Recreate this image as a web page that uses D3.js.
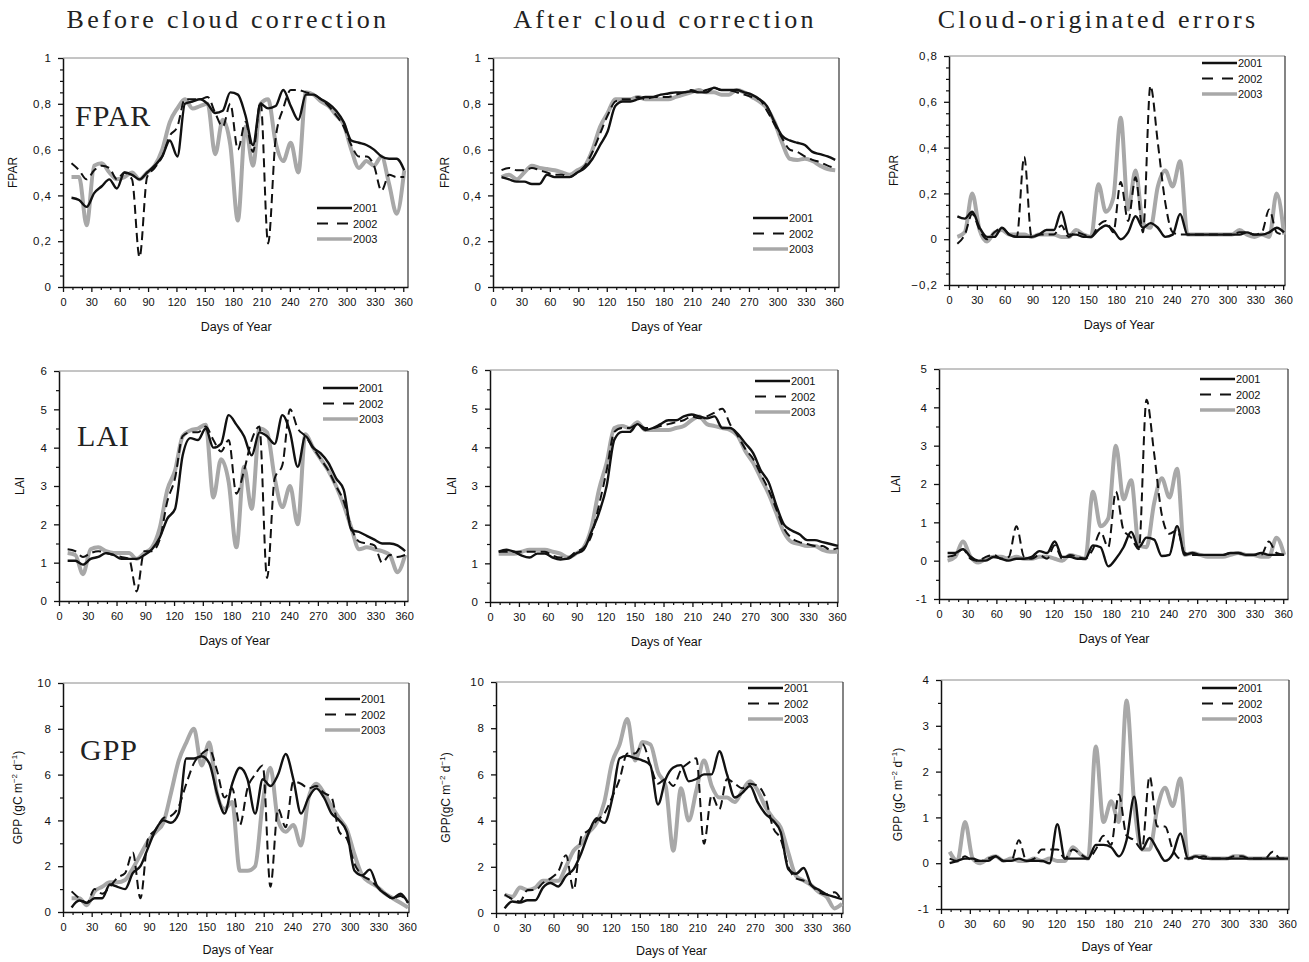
<!DOCTYPE html>
<html><head><meta charset="utf-8">
<script src="https://cdn.jsdelivr.net/npm/d3@7"></script>
<style>
html,body{margin:0;padding:0;background:#fff;}
svg text{font-family:"Liberation Sans",Arial,sans-serif;fill:#111;}
.ttl{font-family:"Liberation Serif","Times New Roman",serif !important;}
</style></head>
<body>
<svg id="c" width="1309" height="962"></svg>
<script>
// ---------- DATA ----------
const days = [9,17,25,33,41,49,57,65,73,81,89,97,105,113,121,129,137,145,153,161,169,177,185,193,201,209,217,225,233,241,249,257,265,273,281,289,297,305,313,321,329,337,345,353,361];
const years = ["2001","2002","2003"];
const columnTitles = ["Before cloud correction","After cloud correction","Cloud-originated errors"];
const xTicks = [0,30,60,90,120,150,180,210,240,270,300,330,360];

const fparBefore2001 = [0.39,0.38,0.35,0.41,0.44,0.47,0.43,0.50,0.49,0.47,0.50,0.53,0.57,0.64,0.57,0.80,0.81,0.82,0.80,0.76,0.77,0.85,0.84,0.75,0.62,0.80,0.78,0.79,0.86,0.79,0.73,0.84,0.84,0.82,0.80,0.77,0.72,0.64,0.63,0.62,0.60,0.57,0.56,0.56,0.51];
const fparBefore2002 = [0.54,0.51,0.47,0.51,0.53,0.52,0.47,0.50,0.47,0.13,0.48,0.52,0.57,0.66,0.70,0.82,0.82,0.82,0.83,0.76,0.70,0.80,0.60,0.72,0.59,0.81,0.19,0.65,0.78,0.86,0.86,0.85,0.84,0.82,0.79,0.75,0.70,0.62,0.57,0.57,0.53,0.42,0.49,0.48,0.48];
const fparBefore2003 = [0.48,0.48,0.27,0.53,0.54,0.50,0.47,0.48,0.50,0.47,0.50,0.53,0.60,0.72,0.78,0.82,0.78,0.79,0.80,0.58,0.73,0.62,0.29,0.70,0.53,0.80,0.82,0.63,0.55,0.63,0.50,0.85,0.84,0.81,0.79,0.75,0.71,0.60,0.52,0.55,0.53,0.57,0.45,0.32,0.51];

const fparAfter2001 = [0.48,0.47,0.46,0.46,0.45,0.45,0.49,0.48,0.48,0.48,0.50,0.52,0.56,0.62,0.68,0.79,0.81,0.81,0.82,0.83,0.83,0.84,0.845,0.85,0.85,0.855,0.85,0.85,0.87,0.86,0.86,0.86,0.85,0.84,0.82,0.79,0.72,0.66,0.64,0.63,0.62,0.59,0.58,0.57,0.555];
const fparAfter2002 = [0.51,0.52,0.51,0.51,0.52,0.51,0.50,0.49,0.49,0.48,0.50,0.53,0.59,0.67,0.75,0.81,0.82,0.82,0.83,0.82,0.83,0.83,0.83,0.84,0.85,0.86,0.85,0.86,0.87,0.86,0.86,0.85,0.84,0.83,0.82,0.77,0.71,0.65,0.60,0.59,0.57,0.555,0.545,0.53,0.52];
const fparAfter2003 = [0.48,0.49,0.47,0.50,0.53,0.52,0.515,0.51,0.50,0.49,0.51,0.53,0.60,0.70,0.76,0.82,0.82,0.82,0.83,0.82,0.82,0.82,0.82,0.83,0.84,0.85,0.86,0.85,0.85,0.84,0.84,0.86,0.85,0.83,0.81,0.78,0.72,0.63,0.56,0.555,0.56,0.55,0.53,0.515,0.51];

const fparError2001 = [0.10,0.09,0.12,0.05,0.01,0.01,0.05,0.02,0.01,0.01,0.01,0.02,0.04,0.04,0.12,0.02,0.02,0.01,0.01,0.04,0.06,0.04,0.00,0.03,0.10,0.05,0.07,0.05,0.01,0.02,0.11,0.02,0.02,0.02,0.02,0.02,0.02,0.02,0.02,0.03,0.02,0.02,0.03,0.05,0.03];
const fparError2002 = [-0.02,0.02,0.11,0.04,0.00,0.03,0.05,0.02,0.01,0.36,0.01,0.02,0.02,0.02,0.06,0.01,0.03,0.02,0.01,0.06,0.08,0.03,0.25,0.08,0.27,0.03,0.67,0.42,0.16,0.03,0.02,0.02,0.02,0.02,0.02,0.02,0.02,0.02,0.03,0.03,0.02,0.03,0.13,0.03,0.02];
const fparError2003 = [0.01,0.03,0.20,0.04,-0.01,0.03,0.04,0.02,0.02,0.02,0.01,0.02,0.02,0.02,0.01,0.01,0.04,0.02,0.01,0.24,0.12,0.18,0.53,0.13,0.30,0.07,0.05,0.23,0.30,0.23,0.34,0.02,0.02,0.02,0.02,0.02,0.02,0.02,0.04,0.02,0.01,0.02,0.01,0.20,0.02];

const laiBefore2001 = [1.05,1.05,0.95,1.10,1.15,1.25,1.20,1.10,1.10,1.10,1.20,1.35,1.65,2.15,2.40,3.80,4.25,4.20,4.50,4.00,4.10,4.85,4.60,4.30,3.80,4.40,4.30,4.10,4.85,4.40,3.50,4.30,4.00,3.85,3.60,3.20,2.90,1.85,1.80,1.70,1.60,1.50,1.50,1.45,1.30];
const laiBefore2002 = [1.35,1.30,1.15,1.25,1.30,1.25,1.20,1.15,1.10,0.25,1.30,1.30,1.60,2.60,3.20,4.30,4.40,4.40,4.55,4.20,3.90,4.20,2.80,3.40,4.20,4.55,0.60,3.20,3.55,5.00,4.50,4.30,4.00,3.70,3.40,3.00,2.60,1.90,1.55,1.50,1.45,1.00,1.20,1.15,1.20];
const laiBefore2003 = [1.25,1.20,0.70,1.35,1.40,1.30,1.25,1.25,1.25,1.10,1.25,1.40,1.90,2.90,3.40,4.30,4.45,4.50,4.60,2.70,3.70,3.10,1.40,3.50,2.40,4.50,4.40,3.20,2.45,3.00,2.00,4.35,4.00,3.70,3.40,3.00,2.50,1.90,1.35,1.40,1.35,1.30,1.20,0.75,1.20];

const laiAfter2001 = [1.30,1.35,1.30,1.20,1.15,1.25,1.25,1.15,1.10,1.12,1.25,1.35,1.80,2.30,3.00,4.20,4.40,4.40,4.60,4.45,4.50,4.60,4.70,4.70,4.80,4.85,4.80,4.75,4.80,4.50,4.50,4.35,4.10,3.85,3.40,3.10,2.50,2.00,1.85,1.75,1.60,1.60,1.55,1.50,1.45];
const laiAfter2002 = [1.30,1.30,1.30,1.30,1.30,1.30,1.30,1.20,1.15,1.15,1.30,1.40,1.70,2.50,3.40,4.40,4.50,4.50,4.60,4.50,4.50,4.55,4.60,4.65,4.70,4.80,4.75,4.80,4.90,5.00,4.60,4.30,3.95,3.70,3.30,2.90,2.40,1.90,1.65,1.55,1.50,1.45,1.45,1.35,1.40];
const laiAfter2003 = [1.25,1.25,1.25,1.30,1.35,1.35,1.35,1.30,1.25,1.15,1.25,1.40,1.90,2.90,3.60,4.50,4.55,4.50,4.65,4.45,4.45,4.45,4.45,4.50,4.55,4.70,4.80,4.60,4.55,4.50,4.45,4.30,3.90,3.60,3.20,2.80,2.30,1.80,1.55,1.50,1.45,1.45,1.35,1.30,1.30];

const laiError2001 = [0.20,0.20,0.30,0.10,0.00,0.00,0.10,0.05,0.00,0.05,0.05,0.10,0.25,0.20,0.50,0.10,0.10,0.05,0.05,0.40,0.35,-0.15,0.05,0.35,0.75,0.35,0.60,0.55,0.12,0.15,0.90,0.15,0.20,0.15,0.15,0.15,0.15,0.20,0.20,0.15,0.15,0.20,0.15,0.15,0.15];
const laiError2002 = [0.10,0.15,0.30,0.05,0.00,0.10,0.15,0.05,0.10,0.90,0.10,0.05,0.15,0.05,0.40,0.05,0.15,0.10,0.05,0.30,0.75,0.35,1.80,0.80,0.60,0.30,4.20,2.80,1.20,0.70,0.80,0.20,0.15,0.15,0.15,0.15,0.15,0.20,0.20,0.15,0.15,0.15,0.50,0.20,0.15];
const laiError2003 = [0.00,0.10,0.50,0.10,-0.05,0.05,0.10,0.10,0.05,0.10,0.05,0.05,0.10,0.10,0.05,0.00,0.15,0.10,0.05,1.80,0.90,1.10,3.00,1.60,2.10,0.40,0.35,1.50,2.15,1.65,2.40,0.15,0.20,0.15,0.10,0.10,0.10,0.15,0.20,0.15,0.15,0.10,0.10,0.60,0.15];

const gppBefore2001 = [0.2,0.5,0.4,0.6,0.6,1.2,1.1,1.0,1.7,2.0,2.8,3.6,4.0,3.9,4.3,6.7,6.7,6.8,6.5,5.2,4.3,5.6,6.3,5.8,4.3,5.8,5.5,6.0,6.9,5.8,4.3,5.0,5.4,5.0,4.3,4.0,3.5,1.8,1.6,1.85,1.1,0.8,0.6,0.8,0.4];
const gppBefore2002 = [0.9,0.6,0.4,1.0,0.8,1.1,1.5,1.7,2.6,0.6,3.2,3.6,4.1,4.2,4.6,5.6,6.5,6.9,7.1,6.2,5.0,5.4,3.8,5.4,6.0,6.4,1.1,4.5,3.7,5.7,5.6,5.4,5.5,5.2,5.0,3.5,3.2,2.1,1.6,1.4,1.1,0.8,0.6,0.7,0.4];
const gppBefore2003 = [0.6,0.6,0.3,0.9,1.1,1.3,1.3,1.4,1.9,2.5,3.1,3.5,3.9,5.2,6.6,7.4,8.0,6.4,7.4,5.2,4.5,4.8,1.8,1.8,2.0,4.8,6.3,4.0,3.5,3.8,2.9,5.0,5.6,5.2,4.6,4.1,3.6,2.5,1.6,1.3,1.1,0.8,0.6,0.4,0.2];

const gppAfter2001 = [0.2,0.5,0.45,0.55,0.55,1.1,1.3,1.15,1.6,1.9,2.6,3.5,4.1,3.9,4.9,6.7,6.8,6.7,6.6,6.4,4.7,5.8,6.3,6.4,5.7,5.8,6.0,6.0,7.0,6.0,5.0,5.2,5.5,4.8,4.3,4.0,3.5,1.9,1.7,1.95,1.2,1.0,0.8,0.7,0.6];
const gppAfter2002 = [0.8,0.6,0.5,1.0,1.0,1.3,1.5,1.8,2.5,1.0,3.3,3.6,4.0,4.3,5.0,5.8,6.9,6.9,7.3,6.4,5.6,5.8,5.5,6.2,6.5,6.7,3.0,5.1,4.5,5.8,5.6,5.4,5.6,5.5,5.0,3.7,3.2,2.0,1.5,1.4,1.2,0.9,0.8,0.9,0.5];
const gppAfter2003 = [0.8,0.7,1.1,1.0,1.1,1.4,1.4,1.4,2.0,2.7,3.0,3.5,3.9,4.8,6.5,7.3,8.4,6.6,7.4,7.3,6.1,5.5,2.7,5.4,4.0,5.3,6.6,5.5,5.0,5.0,4.8,5.3,5.7,5.3,4.6,4.1,3.7,2.6,1.6,1.4,1.2,0.9,0.7,0.2,0.4];

const gppError2001 = [0.0,0.05,0.1,0.1,0.05,0.05,0.15,0.05,0.05,0.1,0.05,0.05,0.05,0.0,0.85,0.1,0.1,0.1,0.1,0.4,0.4,0.35,0.15,0.5,1.45,0.3,0.55,0.3,0.05,0.2,0.65,0.1,0.15,0.1,0.1,0.1,0.1,0.1,0.1,0.1,0.1,0.1,0.1,0.1,0.1];
const gppError2002 = [0.1,0.05,0.15,0.05,0.05,0.1,0.15,0.05,0.05,0.5,0.05,0.1,0.3,0.3,0.3,0.1,0.3,0.2,0.1,0.3,0.6,0.4,1.5,0.6,0.5,0.3,1.9,0.8,0.8,0.3,0.1,0.1,0.1,0.15,0.1,0.1,0.1,0.15,0.15,0.1,0.1,0.1,0.25,0.1,0.1];
const gppError2003 = [0.25,0.05,0.9,0.1,0.0,0.1,0.15,0.05,0.1,0.05,0.05,0.1,0.05,0.1,0.05,0.05,0.35,0.2,0.1,2.55,0.9,1.35,0.9,3.55,1.3,0.3,0.3,1.2,1.65,1.25,1.85,0.1,0.15,0.15,0.1,0.1,0.1,0.15,0.15,0.1,0.1,0.1,0.1,0.1,0.1];

const fparTicks = [0,0.2,0.4,0.6,0.8,1];
const fparErrTicks = [-0.2,0,0.2,0.4,0.6,0.8];
const laiTicks = [0,1,2,3,4,5,6];
const laiErrTicks = [-1,0,1,2,3,4,5];
const gppTicks = [0,2,4,6,8,10];
const gppErrTicks = [-1,0,1,2,3,4];

// ---------- LAYOUT ----------
const comma = d => (d===0?"0":(Number.isInteger(d)?String(d):d3.format(".1f")(d).replace(".",",")));
const intf = d => String(d);
const panels = [
 {s:[fparBefore2001,fparBefore2002,fparBefore2003], l:63, r:408, dmax:365, t:58, b:287, yd:[0,1], ticks:fparTicks, minor:0.05, fmt:comma, ylab:"FPAR", ylx:13, leg:[317,208], inLabel:["FPAR",75,126]},
 {s:[fparAfter2001,fparAfter2002,fparAfter2003], l:493, r:839, dmax:365, t:58, b:287, yd:[0,1], ticks:fparTicks, minor:0.05, fmt:comma, ylab:"FPAR", ylx:445, leg:[753,218]},
 {s:[fparError2001,fparError2002,fparError2003], l:949, r:1285, dmax:362, t:56, b:285, yd:[-0.2,0.8], ticks:fparErrTicks, minor:0.05, fmt:comma, ylab:"FPAR", ylx:894, leg:[1202,63]},
 {s:[laiBefore2001,laiBefore2002,laiBefore2003], l:59, r:408, dmax:364, t:371, b:601, yd:[0,6], ticks:laiTicks, minor:0.5, fmt:intf, ylab:"LAI", ylx:20, leg:[323,388], inLabel:["LAI",77,446]},
 {s:[laiAfter2001,laiAfter2002,laiAfter2003], l:490, r:838, dmax:361, t:370, b:602, yd:[0,6], ticks:laiTicks, minor:0.5, fmt:intf, ylab:"LAI", ylx:452, leg:[755,381]},
 {s:[laiError2001,laiError2002,laiError2003], l:939, r:1288, dmax:365, t:369, b:599, yd:[-1,5], ticks:laiErrTicks, minor:0.5, fmt:intf, ylab:"LAI", ylx:896, leg:[1200,379]},
 {s:[gppBefore2001,gppBefore2002,gppBefore2003], l:63, r:409, dmax:362, t:683, b:912, yd:[0,10], ticks:gppTicks, minor:1, fmt:intf, ylab:"GPP (gC m", ylx:18, leg:[325,699], inLabel:["GPP",80,760]},
 {s:[gppAfter2001,gppAfter2002,gppAfter2003], l:496, r:843, dmax:362, t:682, b:913, yd:[0,10], ticks:gppTicks, minor:1, fmt:intf, ylab:"GPP(gC m", ylx:446, leg:[748,688]},
 {s:[gppError2001,gppError2002,gppError2003], l:941, r:1289, dmax:362, t:680, b:909, yd:[-1,4], ticks:gppErrTicks, minor:0.5, fmt:intf, ylab:"GPP (gC m", ylx:898, leg:[1202,688]}
];
const styles = [
 {stroke:"#111", w:2.4, dash:null},
 {stroke:"#111", w:2.0, dash:"9,5"},
 {stroke:"#a8a8a8", w:4.0, dash:null}
];

const svg = d3.select("#c");

// titles
[228,665,1098].forEach((cx,i)=>{
  svg.append("text").attr("class","ttl").attr("x",cx).attr("y",28).attr("text-anchor","middle")
    .style("font-size","26px").style("letter-spacing","3.3px").style("fill","#222").text(columnTitles[i]);
});

panels.forEach((p,pi)=>{
  const g = svg.append("g");
  const x = d3.scaleLinear().domain([0,p.dmax]).range([p.l,p.r]);
  const y = d3.scaleLinear().domain(p.yd).range([p.b,p.t]);

  // frame top/right
  g.append("line").attr("x1",p.l).attr("x2",p.r).attr("y1",p.t).attr("y2",p.t).attr("stroke","#8a8a8a").attr("stroke-width",1);
  g.append("line").attr("x1",p.r).attr("x2",p.r).attr("y1",p.t).attr("y2",p.b).attr("stroke","#333").attr("stroke-width",1.2);

  // minor ticks
  const minorY = d3.range(p.yd[0], p.yd[1]+1e-9, p.minor).filter(v=>!p.ticks.some(t=>Math.abs(t-v)<1e-9));
  g.append("g").attr("transform",`translate(${p.l},0)`)
    .call(d3.axisLeft(y).tickValues(minorY).tickSize(3).tickFormat(""))
    .call(a=>a.select(".domain").remove())
    .call(a=>a.selectAll("line").attr("stroke","#111").attr("stroke-width",1.2));
  const minorX = d3.range(0,361,10).filter(v=>v%30!==0);
  g.append("g").attr("transform",`translate(0,${p.b})`)
    .call(d3.axisBottom(x).tickValues(minorX).tickSize(3).tickFormat(""))
    .call(a=>a.select(".domain").remove())
    .call(a=>a.selectAll("line").attr("stroke","#111").attr("stroke-width",1.2));

  // major axes
  const ya = g.append("g").attr("transform",`translate(${p.l},0)`)
    .call(d3.axisLeft(y).tickValues(p.ticks).tickSize(5).tickSizeOuter(0).tickPadding(6).tickFormat(p.fmt));
  ya.select(".domain").attr("stroke","#111").attr("stroke-width",1.5);
  ya.selectAll(".tick line").attr("stroke","#111").attr("stroke-width",1.3);
  ya.selectAll(".tick text").style("font-size","11.5px").style("letter-spacing","1px").attr("fill","#111");

  const xa = g.append("g").attr("transform",`translate(0,${p.b})`)
    .call(d3.axisBottom(x).tickValues(xTicks).tickSize(5).tickSizeOuter(0).tickPadding(6).tickFormat(d3.format("d")));
  xa.select(".domain").attr("stroke","#111").attr("stroke-width",1.5);
  xa.selectAll(".tick line").attr("stroke","#111").attr("stroke-width",1.3);
  xa.selectAll(".tick text").style("font-size","11px").attr("fill","#111");

  // x label
  g.append("text").attr("x",(p.l+x(360))/2+3).attr("y",p.b+(pi>=6?42:44)).attr("text-anchor","middle")
    .style("font-size","12.5px").text("Days of Year");

  // y label
  const yl = g.append("text").attr("transform",`translate(${p.ylx},${(p.t+p.b)/2}) rotate(-90)`)
    .attr("text-anchor","middle").attr("dy","0.35em").style("font-size","12px");
  if (pi>=6) {
    yl.append("tspan").text(p.ylab);
    yl.append("tspan").attr("dy","-5").style("font-size","8px").text("−2");
    yl.append("tspan").attr("dy","5").text(" d");
    yl.append("tspan").attr("dy","-5").style("font-size","8px").text("−1");
    yl.append("tspan").attr("dy","5").text(")");
  } else {
    yl.text(p.ylab);
  }

  // series
  const line = d3.line().x(d=>x(d[0])).y(d=>y(d[1])).curve(d3.curveMonotoneX);
  [2,1,0].forEach(si=>{
    const st = styles[si];
    g.append("path").datum(days.map((d,i)=>[d,p.s[si][i]]))
      .attr("d",line).attr("fill","none").attr("stroke",st.stroke).attr("stroke-width",st.w)
      .attr("stroke-linejoin","round")
      .attr("stroke-dasharray",st.dash);
  });

  // legend
  years.forEach((yr,i)=>{
    const st = styles[i];
    const ly = p.leg[1] + i*15.5;
    g.append("line").attr("x1",p.leg[0]).attr("x2",p.leg[0]+35).attr("y1",ly).attr("y2",ly)
      .attr("stroke",st.stroke).attr("stroke-width",i===2?3.5:st.w).attr("stroke-dasharray",st.dash?"11,9":null);
    g.append("text").attr("x",p.leg[0]+36).attr("y",ly+4).style("font-size","11px").text(yr);
  });

  // in-plot label
  if (p.inLabel) {
    g.append("text").attr("class","ttl").attr("x",p.inLabel[1]).attr("y",p.inLabel[2])
      .style("font-size","30px").style("letter-spacing","1px").style("fill","#222").text(p.inLabel[0]);
  }
});
</script>
</body></html>
